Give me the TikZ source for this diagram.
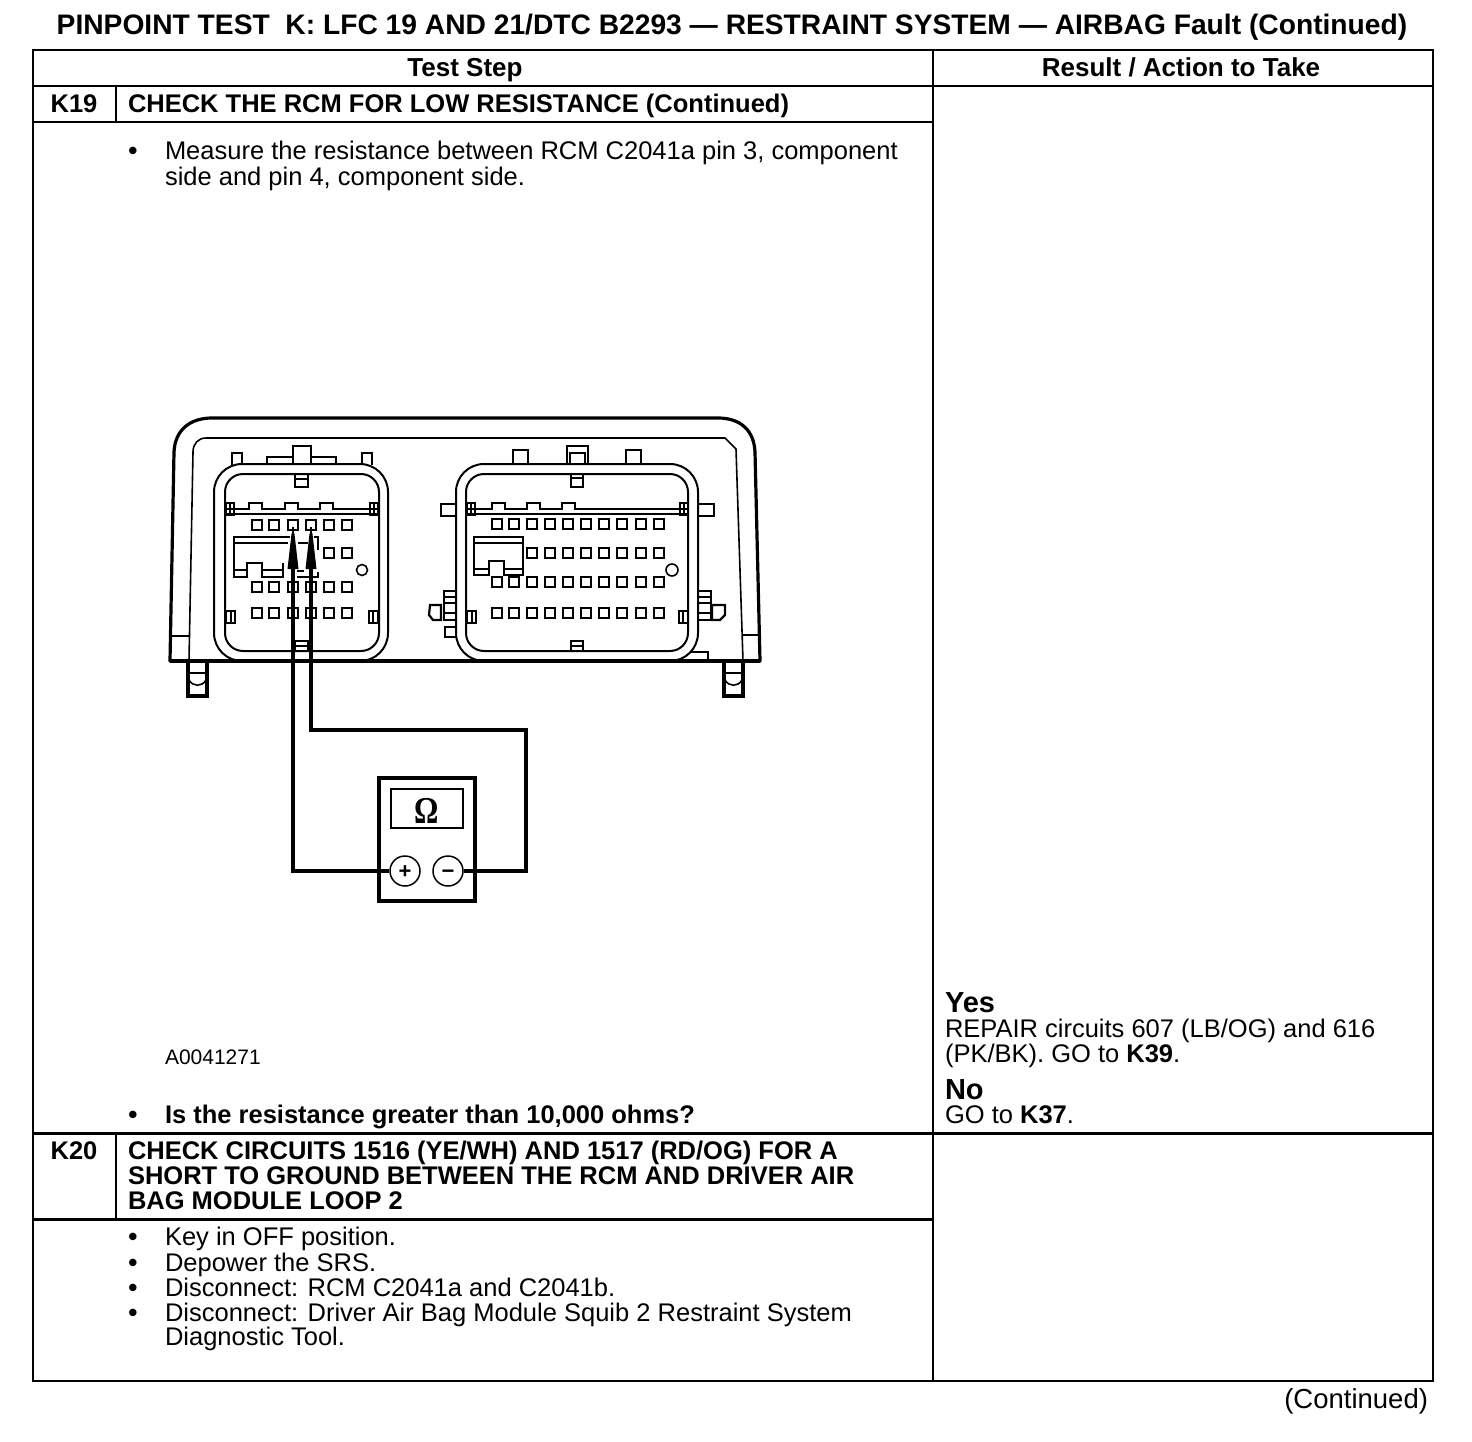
\documentclass[tikz,border=0pt]{standalone}
\usepackage{fontspec}
\setmainfont{Liberation Sans}
\newfontfamily\omegafont{Liberation Serif}
\usetikzlibrary{calc}
\tikzset{
  base/.style={inner sep=0pt,outer sep=0pt},
  tl/.style={base,anchor=base west,font=\fontsize{25.5}{26}\selectfont},
  tb/.style={tl,font=\fontsize{25.5}{26}\selectfont\bfseries},
  tc/.style={tb,anchor=base},
  hd/.style={tc,font=\fontsize{26}{26}\selectfont\bfseries},
  big/.style={tb,font=\fontsize{29}{29}\selectfont\bfseries},
  bul/.style={base,anchor=base,font=\fontsize{26}{26}\selectfont\bfseries},
  rule/.style={line width=2pt,black},
  heavy/.style={line width=3pt,black},
  body/.style={line width=3.2pt,line join=round},
  thin/.style={line width=1.6pt},
  mid/.style={line width=2.2pt},
  pinbox/.style={line width=2.4pt},
  wire/.style={line width=4.2pt,line join=miter},
  foot/.style={line width=3.6pt},
  term/.style={draw,circle,line width=1.5pt,minimum size=30pt,inner sep=0pt},
  sign/.style={base,anchor=base,font=\fontsize{22}{22}\selectfont\bfseries},
}
\newcommand{\pinrow}[2]{\foreach \px in {#1}{\draw[pinbox] (\px-5,#2-5) rectangle (\px+5,#2+5);}}
\newcommand{\railpart}[9]{%
  \draw[mid] (#1,509) -- (#3,509) -- (#3,503) -- (#3+13,503) -- (#3+13,509) -- (#4,509) -- (#4,503) -- (#4+13,503) -- (#4+13,509) -- (#5,509) -- (#5,503) -- (#5+13,503) -- (#5+13,509) -- (#2,509);
  \draw[line width=2.6pt] (#1,514) -- (#2,514);
  \draw[mid] (#6,503) rectangle (#6+8,515); \draw[thin] (#6+4,503) -- (#6+4,515);
  \draw[mid] (#7,503) rectangle (#7+8,515); \draw[thin] (#7+4,503) -- (#7+4,515);
  \draw[mid] (#6,611) rectangle (#6+9,623); \draw[thin] (#6+5,611) -- (#6+5,623);
  \draw[mid] (#7-1,611) rectangle (#7+8,623); \draw[thin] (#7+3,611) -- (#7+3,623);
  \draw[mid] (#8,474) -- (#8,487) -- (#9,487) -- (#9,474);
  \draw[mid] (#8,651) -- (#8,641) -- (#9,641) -- (#9,651);
  \draw[thin] (#8,646) -- (#9,646);
}
\begin{document}
\begin{tikzpicture}[x=1pt,y=-1pt]
\useasboundingbox (0,0) rectangle (1472,1442);
\fill[white] (0,0) rectangle (1472,1442);

% table
\draw[rule] (33,50) rectangle (1433,1381);
\draw[rule] (933,50) -- (933,1381);
\draw[rule] (33,86) -- (1433,86);
\draw[rule] (33,122) -- (933,122);
\draw[rule] (116,86) -- (116,122);
\draw[heavy] (33,1133) -- (1433,1133);
\draw[rule] (116,1133) -- (116,1219);
\draw[heavy] (33,1219) -- (933,1219);

% texts
\node[tc,font=\fontsize{28.2}{28}\selectfont\bfseries] (title) at (732,35) {PINPOINT TEST\ \ K: LFC 19 AND 21/DTC B2293 — RESTRAINT SYSTEM — AIRBAG Fault (Continued)};
\node[hd] (hstep) at (465,77) {Test Step};
\node[hd] (hres) at (1181,77) {Result / Action to Take};
\node[tc] (k19) at (74,113) {K19};
\node[tb] (k19t) at (128,113) {CHECK THE RCM FOR LOW RESISTANCE (Continued)};
\node[bul] (b1) at (133,160) {•};
\node[tl] (m1) at (165,160) {Measure the resistance between RCM C2041a pin 3, component};
\node[tl] (m2) at (165,186) {side and pin 4, component side.};
\node[tl,font=\fontsize{21}{21}\selectfont] (fig) at (165,1064) {A0041271};
\node[bul] (b2) at (133,1123) {•};
\node[tb] (q) at (165,1123) {Is the resistance greater than 10,000 ohms?};
\node[big] (yes) at (945,1012) {Yes};
\node[tl] (r1) at (945,1037) {REPAIR circuits 607 (LB/OG) and 616};
\node[tl] (r2) at (945,1062) {(PK/BK). GO to \textbf{K39}.};
\node[big] (no) at (945,1099) {No};
\node[tl] (r3) at (945,1123) {GO to \textbf{K37}.};
\node[tc] (k20) at (74,1159) {K20};
\node[tb] (k20a) at (128,1159) {CHECK CIRCUITS 1516 (YE/WH) AND 1517 (RD/OG) FOR A};
\node[tb] (k20b) at (128,1184) {SHORT TO GROUND BETWEEN THE RCM AND DRIVER AIR};
\node[tb] (k20c) at (128,1209) {BAG MODULE LOOP 2};
\node[bul] (b3) at (133,1245) {•};
\node[tl] (s1) at (165,1245) {Key in OFF position.};
\node[bul] (b4) at (133,1271) {•};
\node[tl] (s2) at (165,1271) {Depower the SRS.};
\node[bul] (b5) at (133,1296) {•};
\node[tl] (s3) at (165,1296) {Disconnect: RCM C2041a and C2041b.};
\node[bul] (b6) at (133,1321) {•};
\node[tl] (s4) at (165,1321) {Disconnect: Driver Air Bag Module Squib 2 Restraint System};
\node[tl] (s5) at (165,1345) {Diagnostic Tool.};
\node[tl,anchor=base east,font=\fontsize{27.5}{28}\selectfont] (cont) at (1428,1408) {(Continued)};

% module housing
\draw[body] (170,661) -- (174,452) .. controls (175,430) and (190,418) .. (212,418) -- (718,418) .. controls (740,418) and (754,430) .. (755,452) -- (760,661) -- cycle;
\draw[thin] (189,661) -- (193,452) .. controls (193,444) and (198,438) .. (206,438) -- (725,438) -- (736,449) -- (743,661);
\draw[thin] (172,636) -- (189,636);
\draw[mid] (743,635) -- (759,635);

% feet
\foreach \fx in {187,723}{
  \draw[foot] (\fx+1,661) -- (\fx+1,696) -- (\fx+20,696) -- (\fx+20,661);
  \draw[thin] (\fx+1,673) -- (\fx+20,673);
  \draw[thin] (\fx+2,680) .. controls (\fx+6,687) and (\fx+15,687) .. (\fx+19,680);
}

% left connector tabs
\draw[mid] (232,465) -- (232,453) -- (242,453) -- (242,465);
\draw[mid] (362,465) -- (362,453) -- (372,453) -- (372,465);
\draw[mid] (267,464) -- (267,457) -- (293,457) -- (293,446) -- (311,446) -- (311,457) -- (336,457) -- (336,464);
\draw[mid] (293,457) -- (293,464); \draw[mid] (311,457) -- (311,464);

% right connector tabs
\draw[mid] (513,464) -- (513,450) -- (528,450) -- (528,464);
\draw[mid] (626,464) -- (626,450) -- (641,450) -- (641,464);
\draw[mid] (567,464) -- (567,446) -- (588,446) -- (588,464);
\draw[mid] (570,464) -- (570,453) -- (585,453) -- (585,464);
\draw[mid] (441,504) rectangle (456,516);
\draw[mid] (698,504) rectangle (714,516);

% right connector side clips
\draw[mid] (444,591) rectangle (456,620);
\draw[thin] (444,597) -- (456,597); \draw[thin] (444,603) -- (456,603); \draw[thin] (444,613) -- (456,613);
\draw[mid] (441,605) -- (430,605) -- (429,615) -- (433,620) -- (441,620) -- cycle;
\draw[mid] (445,627) rectangle (456,637);
\draw[mid] (698,591) -- (711,591) -- (711,620) -- (698,620);
\draw[thin] (698,597) -- (711,597); \draw[thin] (698,603) -- (711,603); \draw[thin] (698,613) -- (711,613);
\draw[mid] (712,605) -- (725,605) -- (725,615) -- (720,620) -- (712,620) -- cycle;
\draw[thin] (688,652) -- (708,652) -- (708,660);

% connector shells
\draw[line width=2pt,fill=white,rounded corners=28pt] (214,661) rectangle (388,464);
\draw[line width=2pt,rounded corners=18pt] (225,651) rectangle (379,474);
\draw[line width=2pt,fill=white,rounded corners=28pt] (456,661) rectangle (698,464);
\draw[line width=2pt,rounded corners=18pt] (466,651) rectangle (688,474);
\draw[body] (170,661) -- (760,661);

% internals
\railpart{226}{378}{249}{285}{320}{226}{370}{295}{308}
\railpart{467}{688}{492}{527}{562}{467}{680}{571}{583}
\draw[thin] (295,479) -- (308,479);
\draw[thin] (571,478) -- (583,478);

% left pins
\pinrow{257,274,293,311,329,347}{525}
\pinrow{329,347}{553}
\pinrow{257,274,293,311,329,347}{587}
\pinrow{257,274,293,311,329,347}{613}
% left blocking part
\draw[mid] (290,537) -- (234,537) -- (234,577) -- (247,577) -- (247,563) -- (262,563) -- (262,577) -- (283,577) -- (283,563);
\draw[thin] (234,543) -- (288,543);
\draw[thin] (234,570) -- (247,570);
\draw[thin] (262,570) -- (283,570);
\draw[thin] (314,537) -- (318,537) -- (318,550);
\draw[thin] (298,543) -- (308,543);
\draw[thin] (297,571) -- (304,571);
\draw[mid] (297,577) -- (318,577) -- (318,572);
\draw[thin] (362,570) circle (5.5);

% right pins
\pinrow{497,514,532,550,568,586,604,622,641,659}{524}
\pinrow{532,550,568,586,604,622,641,659}{553}
\pinrow{497,514,532,550,568,586,604,622,641,659}{582}
\pinrow{497,514,532,550,568,586,604,622,641,659}{613}
% right blocking part
\draw[mid] (474,537) rectangle (523,575);
\fill[white] (490,562) rectangle (503,576);
\draw[mid] (489,575) -- (489,561) -- (504,561) -- (504,575);
\draw[thin] (474,543) -- (523,543);
\draw[thin] (474,569) -- (489,569);
\draw[thin] (504,569) -- (523,569);
\draw[thin] (672,570) circle (6);

% probes
\coordinate (pa) at (293,527);
\coordinate (pb) at (311,527);
\coordinate (bend) at (526,730);
\fill (293,530) -- (294.5,534) -- (298.5,569) -- (287.5,569) -- (291.5,534) -- cycle;
\fill (311,530) -- (312.5,534) -- (316.5,569) -- (305.5,569) -- (309.5,534) -- cycle;

% meter
\node[term] (plus) at (405,871) {};
\node[term] (minus) at (448,871) {};
\node[sign] (pl) at (405,878.5) {+};
\node[sign] (mi) at (448,878.5) {−};
\node[draw,line width=3.8pt,minimum width=96pt,minimum height=123pt,inner sep=0pt] (meter) at (427,839.5) {};
\node[draw,line width=2pt,minimum width=72pt,minimum height=39pt,inner sep=0pt] (disp) at (427,808.5) {};
\node[base,font=\omegafont\fontsize{38}{38}\selectfont\bfseries] (om) at (427,811) {\scalebox{.8}[1]{Ω}};

% wires
\draw[line width=1.6pt] (pa) -- (293,540);
\draw[line width=1.6pt] (pb) -- (311,540);
\draw[wire] (pa |- 0,560) |- (plus.west);
\draw[wire] (pb |- 0,560) |- (bend) -- (bend |- minus) -- (minus.east);
\end{tikzpicture}
\end{document}
